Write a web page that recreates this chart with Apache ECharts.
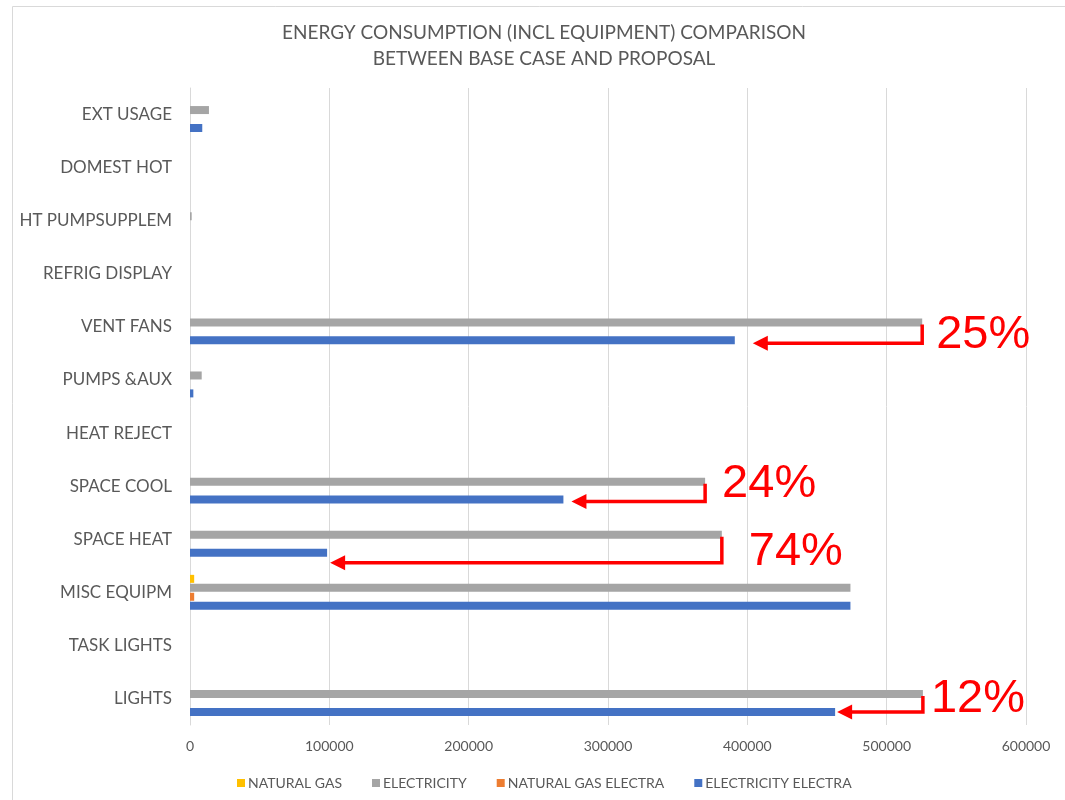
<!DOCTYPE html>
<html>
<head>
<meta charset="utf-8">
<script src="https://cdn.jsdelivr.net/npm/echarts@6/dist/echarts.min.js"></script>
<style>
html,body{margin:0;padding:0;background:#fff;}
#chart{width:1065px;height:800px;}
</style>
</head>
<body>
<div id="chart"></div>
<script>
// ---- data (categories listed bottom to top) ----
var categories = ['LIGHTS','TASK LIGHTS','MISC EQUIPM','SPACE HEAT','SPACE COOL','HEAT REJECT','PUMPS &AUX','VENT FANS','REFRIG DISPLAY','HT PUMPSUPPLEM','DOMEST HOT','EXT USAGE'];
var naturalGas         = [0, 0, 3000, 0, 0, 0, 0, 0, 0, 0, 0, 0];
var electricity        = [526000, 0, 474000, 381700, 369700, 0, 8400, 525500, 0, 1200, 0, 13600];
var naturalGasElectra  = [0, 0, 3000, 0, 0, 0, 0, 0, 0, 0, 0, 0];
var electricityElectra = [463000, 0, 474000, 98400, 268000, 0, 2400, 391000, 0, 0, 0, 8800];
var xTicks = [0, 100000, 200000, 300000, 400000, 500000, 600000];
var seriesNames = ['NATURAL GAS','ELECTRICITY','NATURAL GAS ELECTRA','ELECTRICITY ELECTRA'];
var savingLabels = [
  {category: 'LIGHTS', text: '12%'},
  {category: 'SPACE HEAT', text: '74%'},
  {category: 'SPACE COOL', text: '24%'},
  {category: 'VENT FANS', text: '25%'}
];
// annotation placement tweaks (pixels), same order as savingLabels
var annotationLayout = [
  {textDx: 8,  textDy: 1,  arrowDy: 0,  tipDx: 2},
  {textDx: 27, textDy: 13, arrowDy: 10, tipDx: 3},
  {textDx: 17, textDy: -2, arrowDy: 2,  tipDx: 8},
  {textDx: 14, textDy: 8,  arrowDy: 3,  tipDx: 18}
];

var colors = {
  'NATURAL GAS': '#FFC000',
  'ELECTRICITY': '#A5A5A5',
  'NATURAL GAS ELECTRA': '#ED7D31',
  'ELECTRICITY ELECTRA': '#4472C4'
};
var txt = '#595959';
var font = 'Lato, "Open Sans", sans-serif';
var BAR_W = 8;

var chart = echarts.init(document.getElementById('chart'));

function mk(name, data) {
  return {
    name: name, type: 'bar', data: data,
    barWidth: BAR_W, barGap: '12%',
    itemStyle: {color: colors[name]},
    emphasis: {disabled: true},
    animation: false
  };
}

var option = {
  animation: false,
  textStyle: {fontFamily: font},
  title: {
    text: 'ENERGY CONSUMPTION (INCL EQUIPMENT) COMPARISON\nBETWEEN BASE CASE AND PROPOSAL',
    left: 539,
    textAlign: 'center',
    top: 15,
    textStyle: {fontFamily: font, fontSize: 19, fontWeight: 'normal', color: txt, lineHeight: 26}
  },
  legend: {
    data: seriesNames,
    left: 232,
    top: 771,
    itemWidth: 8, itemHeight: 8, itemGap: 30,
    icon: 'rect',
    textStyle: {fontFamily: font, fontSize: 14, color: txt, padding: [0,0,0,-2]}
  },
  grid: {left: 190, right: 39, top: 88, bottom: 75, containLabel: false},
  xAxis: {
    type: 'value', min: xTicks[0], max: xTicks[xTicks.length-1], interval: xTicks[1]-xTicks[0],
    axisLine: {show: false}, axisTick: {show: false},
    splitLine: {lineStyle: {color: '#D9D9D9', width: 1}},
    axisLabel: {color: txt, fontSize: 14, margin: 14, fontFamily: font,
      formatter: function (v) { return String(v); }}
  },
  yAxis: {
    type: 'category', data: categories,
    axisLine: {lineStyle: {color: '#D9D9D9'}}, axisTick: {show: false},
    axisLabel: {color: txt, fontSize: 17, margin: 18, fontFamily: font, padding: [3, 0, 0, 0]}
  },
  // first series is drawn at the top of each band
  series: [
    mk('NATURAL GAS', naturalGas),
    mk('ELECTRICITY', electricity),
    mk('NATURAL GAS ELECTRA', naturalGasElectra),
    mk('ELECTRICITY ELECTRA', electricityElectra)
  ]
};
chart.setOption(option);

// ---- annotations: arrows from base bar to proposal bar ----
var step = BAR_W * 1.12;
var graphics = [{
  type: 'rect', shape: {x: 12.5, y: 6.5, width: 1100, height: 900},
  style: {fill: 'none', stroke: '#D9D9D9', lineWidth: 1}, silent: true, z: -1
}];
savingLabels.forEach(function (a, i) {
  var L = annotationLayout[i];
  var idx = categories.indexOf(a.category);
  var g = chart.convertToPixel({gridIndex: 0}, [electricity[idx], idx]);
  var b = chart.convertToPixel({gridIndex: 0}, [electricityElectra[idx], idx]);
  var grayY = g[1] - step * 0.5;
  var blueY = b[1] + step * 1.5;
  var arrowY = blueY + L.arrowDy;
  var gx = g[0];
  var tipX = b[0] + L.tipDx;
  graphics.push({
    type: 'polyline',
    shape: {points: [[gx, grayY + 2], [gx, arrowY], [tipX + 12, arrowY]]},
    style: {stroke: '#FF0000', lineWidth: 3.5, fill: 'none'}, silent: true, z: 10
  });
  graphics.push({
    type: 'polygon',
    shape: {points: [[tipX, arrowY], [tipX + 15, arrowY - 7.5], [tipX + 15, arrowY + 7.5]]},
    style: {fill: '#FF0000'}, silent: true, z: 10
  });
  graphics.push({
    type: 'text',
    x: gx + L.textDx, y: g[1] + L.textDy,
    style: {text: a.text, fill: '#FF0000', font: '47px "Liberation Sans", Arial, sans-serif', textVerticalAlign: 'middle', textAlign: 'left'},
    silent: true, z: 10
  });
});
chart.setOption({graphic: graphics});
</script>
</body>
</html>
